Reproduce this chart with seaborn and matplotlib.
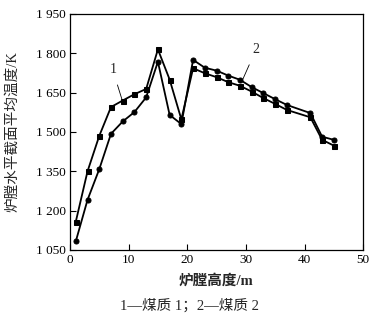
import matplotlib
matplotlib.use("Agg")
import matplotlib.pyplot as plt
import seaborn as sns
import pandas as pd

# Furnace height (m) at marker positions
height = [1, 3, 5, 7, 9, 11, 13, 15, 17, 19, 21, 23, 25, 27, 29, 31, 33, 35, 37, 41, 43, 45]
# Coal quality 1 (square markers)
temp_coal1 = [1158, 1350, 1485, 1595, 1620, 1644, 1664, 1815, 1700, 1548, 1743, 1724,
              1709, 1690, 1676, 1654, 1629, 1607, 1584, 1556, 1470, 1448]
# Coal quality 2 (circle markers)
temp_coal2 = [1083, 1241, 1358, 1493, 1540, 1576, 1632, 1768, 1565, 1530, 1775, 1745,
              1734, 1715, 1699, 1671, 1648, 1625, 1603, 1572, 1482, 1470]

y_ticks = [1050, 1200, 1350, 1500, 1650, 1800, 1950]
y_tick_labels = ["1 050", "1 200", "1 350", "1 500", "1 650", "1 800", "1 950"]
x_ticks = [0, 10, 20, 30, 40, 50]

df = pd.DataFrame({
    "h": height * 2,
    "T": temp_coal1 + temp_coal2,
    "coal": ["1"] * len(height) + ["2"] * len(height),
})

sns.set_style("ticks")
plt.rcParams["font.family"] = ["Liberation Serif", "Noto Sans CJK SC"]

fig = plt.figure(figsize=(3.74, 3.18), dpi=100)
ax = fig.add_axes([0.187, 0.214, 0.784, 0.742])

sns.lineplot(data=df, x="h", y="T", hue="coal", style="coal",
             markers={"1": "s", "2": "o"}, dashes=False,
             palette={"1": "black", "2": "black"}, linewidth=1.3,
             markersize=3.6, markeredgecolor="black", legend=False, ax=ax)

ax.set_xlim(0, 50)
ax.set_ylim(1050, 1950)
ax.set_xticks(x_ticks)
ax.set_yticks(y_ticks)
ax.set_yticklabels(y_tick_labels)
ax.tick_params(direction="in", length=4, width=0.8, labelsize=9.5, pad=3, colors="black")
for s in ax.spines.values():
    s.set_linewidth(0.9)
    s.set_color("black")

ax.set_xlabel("")
ax.set_ylabel("")
fig.text(0.033, 0.585, "炉膛水平截面平均温度/K", rotation=90, ha="center", va="center",
         fontsize=10.5)
fig.text(0.578, 0.118, "炉膛高度/m", ha="center", va="center", fontsize=10.5,
         fontweight="bold")
fig.text(0.507, 0.04, "1—煤质 1；2—煤质 2", ha="center", va="center", fontsize=10.5)

ax.annotate("1", xy=(8.9, 1622), xytext=(7.3, 1737), fontsize=10, ha="center", va="center",
            arrowprops=dict(arrowstyle="-", color="black", lw=0.6, shrinkA=4, shrinkB=0))
ax.annotate("2", xy=(29.5, 1702), xytext=(31.7, 1813), fontsize=10, ha="center", va="center",
            arrowprops=dict(arrowstyle="-", color="black", lw=0.6, shrinkA=4, shrinkB=0))

fig.savefig("out.png", dpi=100)
